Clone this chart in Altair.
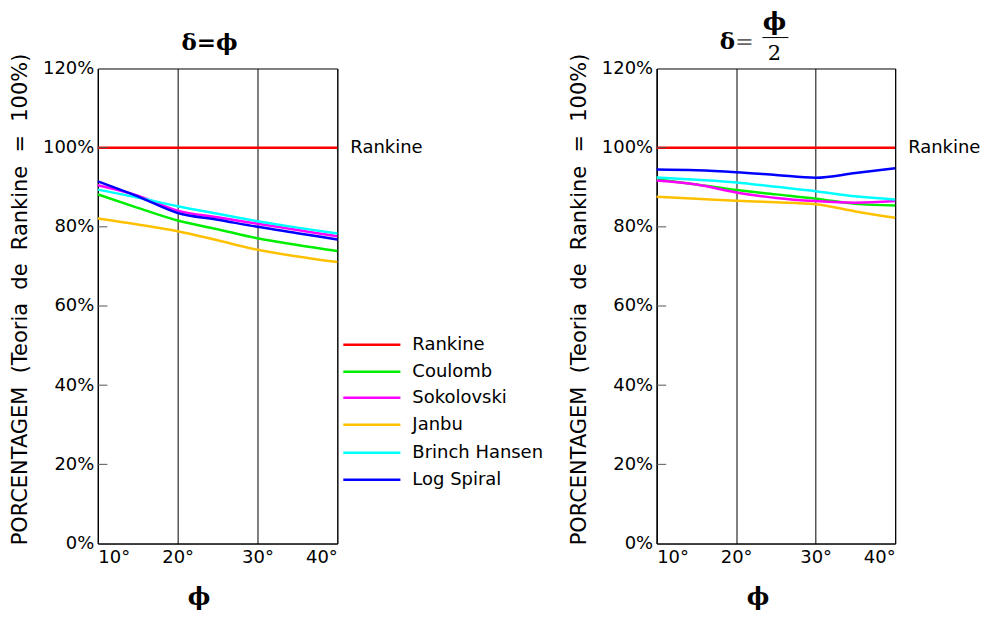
import altair as alt
import pandas as pd

# ---------------- data ----------------
phi = [10, 15, 20, 25, 30, 35, 40]
series = ["Rankine", "Coulomb", "Sokolovski", "Janbu", "Brinch Hansen", "Log Spiral"]
colors = ["#ff0000", "#00ee00", "#ff00ff", "#ffc000", "#00ffff", "#0000ff"]

# panel 1: delta = phi
left_rankine = [100, 100, 100, 100, 100, 100, 100]
left_coulomb = [88.2, 84.8, 81.6, 79.4, 77.1, 75.4, 73.9]
left_sokolovski = [90.5, 87.9, 84.1, 82.4, 80.8, 79.2, 77.6]
left_janbu = [82.1, 80.6, 78.9, 76.6, 74.2, 72.5, 71.1]
left_brinch = [89.4, 87.4, 85.2, 83.3, 81.4, 79.8, 78.3]
left_logspiral = [91.5, 87.7, 83.5, 81.8, 80.0, 78.4, 76.8]

# panel 2: delta = phi/2
right_rankine = [100, 100, 100, 100, 100, 100, 100]
right_coulomb = [92.0, 90.7, 89.3, 88.2, 87.1, 85.8, 85.4]
right_sokolovski = [91.7, 90.7, 88.7, 87.3, 86.5, 86.1, 86.5]
right_janbu = [87.6, 87.1, 86.6, 86.2, 85.7, 83.9, 82.3]
right_brinch = [92.5, 91.9, 91.2, 90.1, 89.0, 87.7, 86.9]
right_logspiral = [94.5, 94.3, 93.8, 93.1, 92.4, 93.6, 94.8]

x_ticks = [10, 20, 30, 40]
y_ticks = [0, 20, 40, 60, 80, 100, 120]
inner_ticks = [20, 40, 60, 80, 100]
legend_rows = [50.2, 43.4, 36.8, 30.0, 22.9, 16.1]

NB = "\u00a0\u00a0"
y_title = "PORCENTAGEM" + NB + "(Teoria" + NB + "de" + NB + "Rankine" + NB + "=" + NB + "100%)"

# ---------------- helpers ----------------
def long_df(cols):
    rows = []
    for name, vals in zip(series, cols):
        for i, (p, v) in enumerate(zip(phi, vals)):
            rows.append({"phi": p, "pct": v, "serie": name, "order": i})
    return pd.DataFrame(rows)

left_df = long_df([left_rankine, left_coulomb, left_sokolovski, left_janbu, left_brinch, left_logspiral])
right_df = long_df([right_rankine, right_coulomb, right_sokolovski, right_janbu, right_brinch, right_logspiral])

LABEL_FONT = "DejaVu Sans"
SERIF = "DejaVu Serif"

xscale = alt.Scale(domain=[10, 40], nice=False, zero=False)
yscale = alt.Scale(domain=[0, 120], nice=False)
cscale = alt.Scale(domain=series, range=colors)

def xaxis():
    return alt.Axis(values=x_ticks, labelExpr="datum.value + '°'", grid=True,
                    gridColor="black", gridWidth=1, gridOpacity=1, ticks=False,
                    domainColor="black", labelFont=LABEL_FONT, labelFontSize=18,
                    labelColor="black", labelPadding=5,
                    title="ϕ", titleFont=SERIF, titleFontSize=24, titleFontWeight="bold",
                    titleX=101, titleY=54, titleBaseline="middle", titleAlign="center",
                    titleColor="black")

def yaxis():
    return alt.Axis(values=y_ticks, labelExpr="datum.value + '%'", grid=False, ticks=False,
                    domainColor="black", labelFont=LABEL_FONT, labelFontSize=18,
                    labelColor="black", labelPadding=4,
                    title=y_title, titleFont=LABEL_FONT, titleFontSize=21,
                    titleFontWeight="normal", titleColor="black", titlePadding=12,
                    titleY=231)

def panel(df, legend):
    base = alt.Chart(df)
    lines = base.mark_line(strokeWidth=2.5, interpolate="monotone").encode(
        x=alt.X("phi:Q", scale=xscale, axis=xaxis()),
        y=alt.Y("pct:Q", scale=yscale, axis=yaxis()),
        color=alt.Color("serie:N", scale=cscale, legend=None),
        detail="serie:N",
        order="order:Q",
    )
    tick_df = pd.DataFrame({"v": inner_ticks, "x0": [10] * len(inner_ticks),
                            "x1": [11.2] * len(inner_ticks)})
    ticks = alt.Chart(tick_df).mark_rule(color="#555", strokeWidth=1).encode(
        x="x0:Q", x2="x1:Q", y="v:Q")
    rk = alt.Chart(pd.DataFrame({"x": [40], "y": [100], "t": ["Rankine"]})).mark_text(
        align="left", baseline="middle", dx=13, font=LABEL_FONT, fontSize=18, color="black"
    ).encode(x="x:Q", y="y:Q", text="t:N")
    layers = [lines, ticks, rk]
    if legend:
        ldf = pd.DataFrame({"serie": series, "y": legend_rows,
                            "x0": [40.75] * 6, "x1": [47.9] * 6, "xt": [49.4] * 6})
        lrules = alt.Chart(ldf).mark_rule(strokeWidth=2.5).encode(
            x="x0:Q", x2="x1:Q", y="y:Q",
            color=alt.Color("serie:N", scale=cscale, legend=None))
        ltext = alt.Chart(ldf).mark_text(align="left", baseline="middle", font=LABEL_FONT,
                                         fontSize=18, color="black").encode(
            x="xt:Q", y="y:Q", text="serie:N")
        layers += [lrules, ltext]
    return layers

# titles
t_left = alt.Chart(pd.DataFrame({"t": ["δ=ϕ"]})).mark_text(
    font=SERIF, fontSize=23, fontWeight="bold", color="black", align="center", baseline="middle"
).encode(x=alt.value(112), y=alt.value(-26), text="t:N")

t_right_parts = []
for t, px, py, fw, fs, col in [("δ", 71, -27, "bold", 23, "black"),
                               ("=", 88, -27, "normal", 22, "#666"),
                               ("ϕ", 118, -47, "bold", 25, "black"),
                               ("2", 118, -15, "normal", 21, "black")]:
    t_right_parts.append(
        alt.Chart(pd.DataFrame({"t": [t]})).mark_text(
            font=SERIF, fontSize=fs, fontWeight=fw, color=col, align="center", baseline="middle"
        ).encode(x=alt.value(px), y=alt.value(py), text="t:N"))
frac_line = alt.Chart(pd.DataFrame({"a": [0]})).mark_rule(color="black", strokeWidth=1).encode(
    x=alt.value(106), x2=alt.value(132), y=alt.value(-31))

left = alt.layer(*panel(left_df, True), t_left).properties(width=240, height=476)
right = alt.layer(*panel(right_df, False), *t_right_parts, frac_line).properties(width=239, height=476)

chart = alt.hconcat(left, right, spacing=320, bounds="flush").properties(
    padding={"left": 1, "top": 0, "right": 0, "bottom": 0}
).configure_view(stroke="black", strokeWidth=1)

chart.save("out.html", embed_options={"renderer": "svg", "actions": False})
